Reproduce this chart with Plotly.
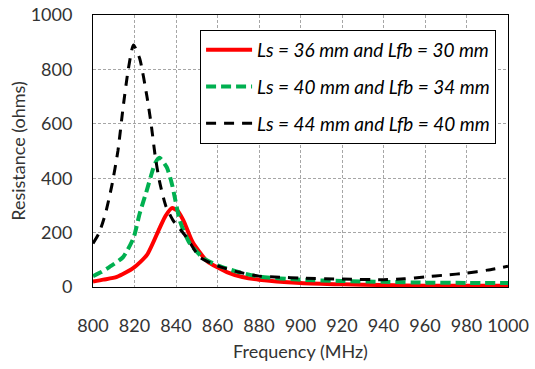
import plotly.graph_objects as go

# Series data
freq_44 = [800, 803, 806, 809, 812, 814.5, 817, 819.5, 822.5, 826, 828, 830, 832, 835, 838.5, 845, 851.5,
           860, 870, 880, 890, 900, 920, 940, 950, 960, 970, 980, 990, 1000]
res_44 = [160, 200, 270, 370, 500, 660, 800, 890, 840, 700, 600, 480, 390, 300, 246, 184, 110,
          78, 55, 40, 36, 33, 29, 27, 30, 37, 44, 51, 62, 76]

freq_40 = [800, 804, 808, 814.5, 819.5, 822.5, 826, 828, 830, 832, 835.5, 838, 842, 846.5, 853,
           860, 870, 880, 900, 920, 940, 960, 980, 1000]
res_40 = [40, 55, 74, 110, 180, 270, 357, 410, 456, 475, 441, 380, 240, 162, 107,
          80, 55, 38, 27, 22, 19, 16, 15, 15]

freq_36 = [800, 805, 811.5, 819.5, 826, 832, 835, 838, 840.5, 843.5, 848, 855, 864.5, 872, 880,
           900, 920, 940, 960, 980, 1000]
res_36 = [20, 27, 37, 70, 118, 215, 262, 290, 282, 246, 165, 95, 55, 37, 27,
          15, 10, 7, 5, 5, 5]

names = ["Ls = 36 mm and Lfb = 30 mm", "Ls = 40 mm and Lfb = 34 mm", "Ls = 44 mm and Lfb = 40 mm"]
x_ticks = [800, 820, 840, 860, 880, 900, 920, 940, 960, 980, 1000]
y_ticks = [0, 200, 400, 600, 800, 1000]

FONT = "Lato, sans-serif"
TXT = "#333333"

fig = go.Figure()
fig.add_trace(go.Scatter(x=freq_36, y=res_36, name=names[0], mode="lines", legendgroup="a",
                         line=dict(color="#ff0000", width=4, shape="spline", smoothing=0.6)))
fig.add_trace(go.Scatter(x=freq_40, y=res_40, name=names[1], mode="lines", legendgroup="b",
                         line=dict(color="#00b050", width=4, dash="10px,5px", shape="spline", smoothing=0.6)))
fig.add_trace(go.Scatter(x=freq_44, y=res_44, name=names[2], mode="lines", legendgroup="c",
                         line=dict(color="#000000", width=3, dash="10px,8px", shape="spline", smoothing=0.6)))

axis_common = dict(showline=True, linecolor="#000000", linewidth=1, mirror=True,
                   showgrid=True, gridcolor="#a6a6a6", gridwidth=1, griddash="3px,2px",
                   zeroline=False, tickfont=dict(family=FONT, size=18, color=TXT),
                   ticks="", automargin=False, tickangle=0)
fig.update_xaxes(range=[800, 1000], tickvals=x_ticks, ticklabelstandoff=22,
                 title=dict(text="Frequency (MHz)", font=dict(family=FONT, size=18, color=TXT), standoff=10),
                 **axis_common)
fig.update_yaxes(range=[0, 1000], tickvals=y_ticks, ticklabelstandoff=16,
                 title=dict(text="Resistance (ohms)", font=dict(family=FONT, size=18, color=TXT), standoff=0),
                 **axis_common)

fig.update_layout(
    width=535, height=369,
    margin=dict(l=93, r=27, t=15, b=82),
    plot_bgcolor="white", paper_bgcolor="white",
    legend=dict(x=0.258, y=0.945, xanchor="left", yanchor="top",
                bgcolor="white", bordercolor="#000000", borderwidth=1,
                font=dict(family=FONT, size=19, color="#000000", style="italic"),
                traceorder="grouped", tracegroupgap=9, itemwidth=46),
)

fig.write_html("out.html", config={"displayModeBar": False},
               post_script="document.body.style.margin='0px';")
